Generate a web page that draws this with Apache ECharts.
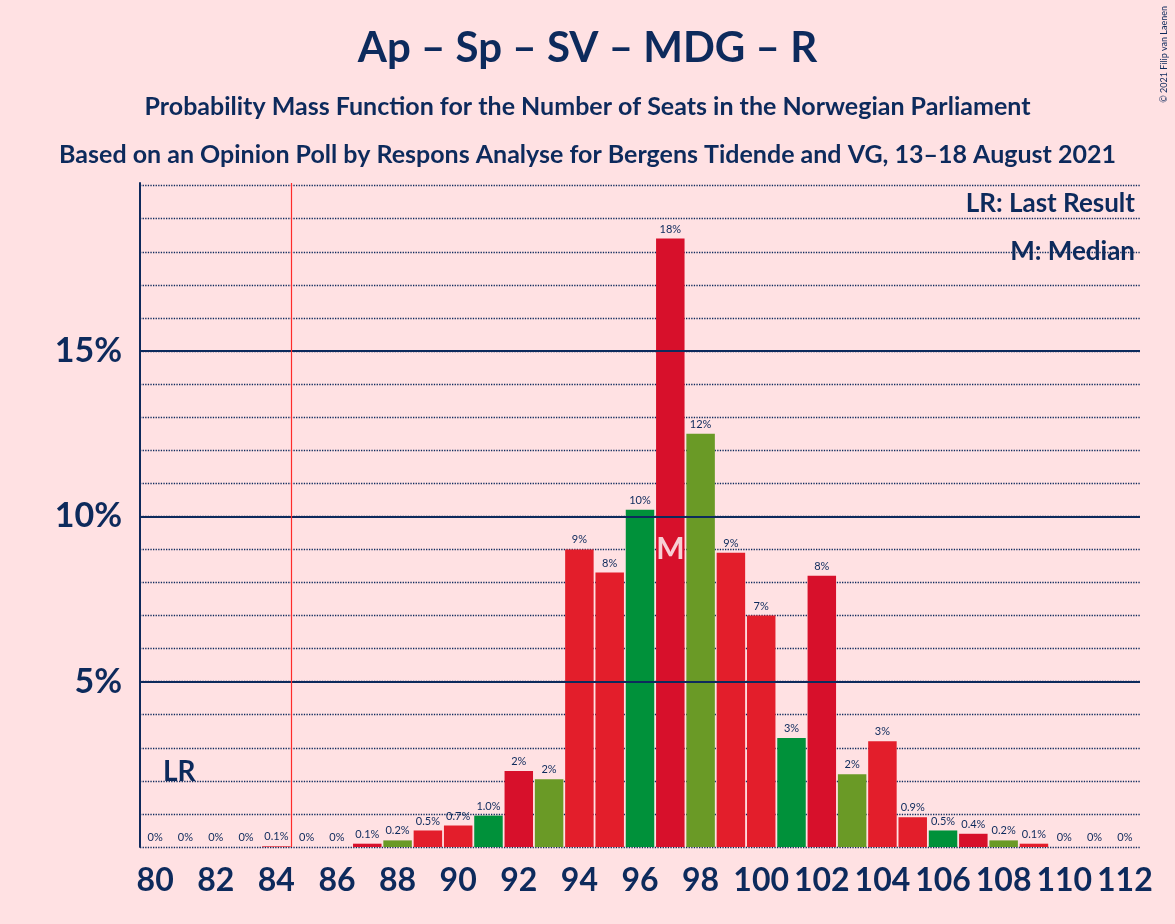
<!DOCTYPE html>
<html><head><meta charset="utf-8">
<script src="https://cdn.jsdelivr.net/npm/echarts@6/dist/echarts.min.js"></script>
<style>html,body{margin:0;background:#ffe1e3}#c{width:1175px;height:924px}</style>
</head><body><div id="c"></div>
<script>
const seats = [80,81,82,83,84,85,86,87,88,89,90,91,92,93,94,95,96,97,98,99,100,101,102,103,104,105,106,107,108,109,110,111,112];
const probs = [0,0,0,0,0.02,0,0,0.1,0.2,0.5,0.65,0.95,2.3,2.05,9.0,8.3,10.2,18.4,12.5,8.9,7.0,3.3,8.2,2.2,3.2,0.9,0.5,0.4,0.2,0.1,0,0,0];
const labels = ["0%","0%","0%","0%","0.1%","0%","0%","0.1%","0.2%","0.5%","0.7%","1.0%","2%","2%","9%","8%","10%","18%","12%","9%","7%","3%","8%","2%","3%","0.9%","0.5%","0.4%","0.2%","0.1%","0%","0%","0%"];
const lastResult = 84.5;
const median = 97;
const colorsByMod = {0:"#e31e2b",1:"#00913a",2:"#d7102b",3:"#6a9a26",4:"#e31e2b"};
const navy = "#0d2a5c";

const chart = echarts.init(document.getElementById("c"));
chart.setOption({
  backgroundColor: "#ffe1e3",
  animation: false,
  title: [
    {text:"Ap – Sp – SV – MDG – R", left:"center", top:22, textStyle:{color:navy,fontSize:42,fontWeight:"bold",fontFamily:"Lato"}},
    {text:"Probability Mass Function for the Number of Seats in the Norwegian Parliament", left:"center", top:89, textStyle:{color:navy,fontSize:25,fontWeight:"bold",fontFamily:"Lato"}},
    {text:"Based on an Opinion Poll by Respons Analyse for Bergens Tidende and VG, 13–18 August 2021", left:"center", top:137, textStyle:{color:navy,fontSize:25,fontWeight:"bold",fontFamily:"Lato"}},
    {text:"LR: Last Result", right:35, top:186, textStyle:{color:navy,fontSize:26,fontWeight:"bold",fontFamily:"Lato"}},
    {text:"M: Median", right:35, top:234, textStyle:{color:navy,fontSize:26,fontWeight:"bold",fontFamily:"Lato"}}
  ],
  graphic: [
    {type:"text", left:163, top:758, style:{text:"LR", fill:navy, font:"bold 28px Lato"}},
    {type:"text", right:6, top:6, rotation:Math.PI/2, style:{text:"© 2021 Filip van Laenen", fill:navy, font:"9px Lato"}}
  ],
  grid: {left:140, right:35, top:183, bottom:77},
  xAxis: [
    {type:"category", data:seats, axisTick:{show:false}, axisLine:{show:false},
     axisLabel:{interval:1, color:navy, fontSize:32, fontWeight:"bold", fontFamily:"Lato", margin:18}},
    {type:"value", min:-0.5, max:32.5, show:false}
  ],
  yAxis: {type:"value", min:0, max:20.08, interval:1,
    axisLine:{show:true, onZero:false, lineStyle:{color:navy, width:2}}, axisTick:{show:false},
    axisLabel:{color:navy, fontSize:34, fontWeight:"bold", fontFamily:"Lato", margin:18,
      formatter:v => (v===5||v===10||v===15) ? v+"%" : ""},
    splitLine:{show:true, lineStyle:{color:navy, type:"dotted", width:1.3, opacity:1},
      showMaxLine:false}
  },
  series: [
    {type:"bar", barWidth:"94%",
     data: probs.map((p,i) => ({value:p, itemStyle:{color:colorsByMod[seats[i]%5]}})),
     label:{show:true, position:"top", distance:4, color:navy, fontSize:11, fontFamily:"Lato",
       formatter:p => labels[p.dataIndex]},
     markLine:{silent:true, symbol:"none", label:{show:false},
       lineStyle:{color:navy, type:"solid", width:2},
       data:[{yAxis:5},{yAxis:10},{yAxis:15}]},
     z:3},
    {type:"scatter", xAxisIndex:1, data:[],
     markLine:{silent:true, symbol:"none", label:{show:false}, lineStyle:{color:"#ff2a2a", type:"solid", width:1.2},
       data:[{xAxis: lastResult-80}]}},
    {type:"scatter", data:[[String(median), 9.0]], symbolSize:0,
     label:{show:true, formatter:"M", color:"#fff", fontSize:30, fontWeight:"bold", fontFamily:"Lato", position:"inside"}, z:5}
  ]
});
</script></body></html>
